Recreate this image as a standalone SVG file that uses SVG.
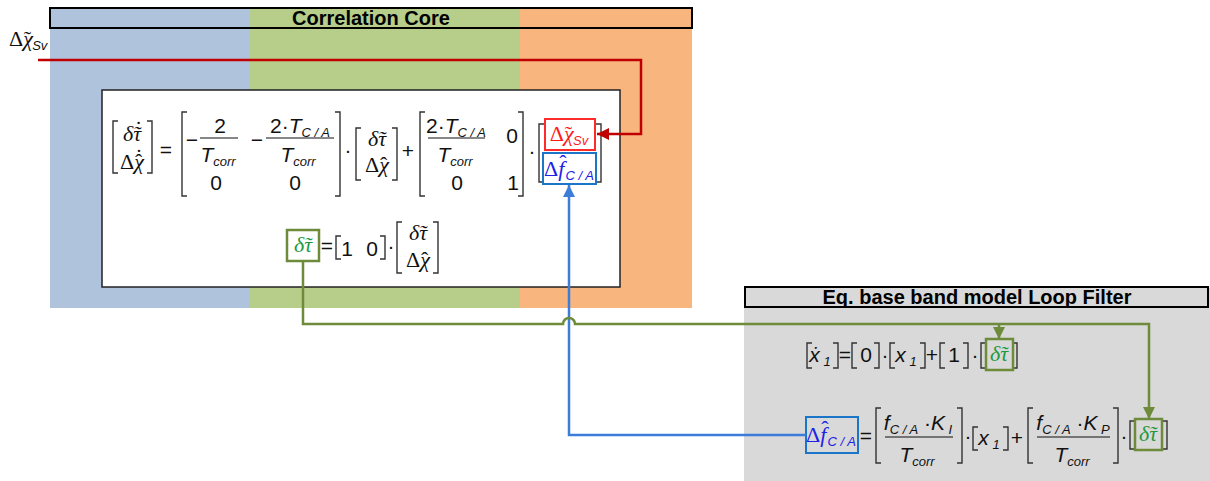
<svg xmlns="http://www.w3.org/2000/svg" width="1210" height="481" viewBox="0 0 1210 481">
<style>
.m{font-family:"Liberation Sans",Arial,sans-serif;font-size:21px;fill:#111}
.g{font-family:"Liberation Serif","Times New Roman",serif;font-size:22px;fill:#111}
.gi{font-style:italic}
.i{font-style:italic}
.s{font-family:"Liberation Sans",Arial,sans-serif;font-size:13px;font-style:italic}
.br{fill:none;stroke:#333;stroke-width:1.4}
.title{font-family:"Liberation Sans",Arial,sans-serif;font-weight:bold;font-size:20px;fill:#000}
.red{fill:#FF1A1A}
.blu{fill:#2020E8}
.grn{fill:#1E9A3C}
.gbox{fill:none;stroke:#6D8B3A;stroke-width:2.5}
.fl{stroke:#111;stroke-width:1.2}
</style>
<defs>
<marker id="arR" viewBox="0 0 10 10" refX="10" refY="5" markerWidth="12" markerHeight="12" markerUnits="userSpaceOnUse" orient="auto"><path d="M0,0 L10,5 L0,10 z" fill="#C00000"/></marker>
<marker id="arB" viewBox="0 0 10 10" refX="10" refY="5" markerWidth="12" markerHeight="12" markerUnits="userSpaceOnUse" orient="auto"><path d="M0,0 L10,5 L0,10 z" fill="#3C7DD9"/></marker>
<marker id="arG" viewBox="0 0 10 10" refX="10" refY="5" markerWidth="12" markerHeight="12" markerUnits="userSpaceOnUse" orient="auto"><path d="M0,0 L10,5 L0,10 z" fill="#6D8B3A"/></marker>
</defs>

<g id="correlation-core">
<rect x="50" y="8" width="200" height="300" fill="#B0C3DC"/>
<rect x="250" y="8" width="270" height="300" fill="#B7CE8A"/>
<rect x="520" y="8" width="172" height="300" fill="#F8B57E"/>
<rect x="50" y="8" width="642" height="20" fill="none" stroke="#000" stroke-width="2"/>
<text class="title" x="371" y="25" text-anchor="middle">Correlation Core</text>
</g>

<g id="loop-filter">
<rect x="744" y="288" width="466" height="193" fill="#D9D9D9"/>
<rect x="745" y="287" width="463" height="20" fill="#D9D9D9" stroke="#000" stroke-width="2"/>
<text class="title" x="977" y="304" text-anchor="middle">Eq. base band model Loop Filter</text>
</g>

<g id="state-model">
<rect x="102" y="90" width="518" height="197" fill="#fff" stroke="#222" stroke-width="1.5"/>
<!-- left vector -->
<path class="br" d="M118,121 H113 V173 H118 M147,121 H152 V173 H147"/>
<text class="g gi" x="132" y="141" text-anchor="middle">δτ<tspan dx="-8">˜</tspan><tspan dx="-7" dy="-5">˙</tspan></text>
<text class="g" x="132" y="169" text-anchor="middle">Δ<tspan class="gi">χ</tspan><tspan dx="-9">ˆ</tspan><tspan dx="-7" dy="-5">˙</tspan></text>
<text class="m" x="166" y="157" text-anchor="middle">=</text>
<!-- matrix A -->
<path class="br" d="M187,112 H182 V196 H187 M335,112 H340 V196 H335"/>
<text class="m" x="192" y="147" text-anchor="middle">−</text>
<text class="m" x="220" y="133" text-anchor="middle">2</text>
<line class="fl" x1="200" y1="138" x2="238" y2="138"/>
<text class="m" x="218" y="162" text-anchor="middle"><tspan class="i">T</tspan><tspan class="s" dy="4">corr</tspan></text>
<text class="m" x="216" y="190" text-anchor="middle">0</text>
<text class="m" x="257" y="147" text-anchor="middle">−</text>
<text class="m" x="300" y="133" text-anchor="middle">2·<tspan class="i">T</tspan><tspan class="s" dy="4">C / A</tspan></text>
<line class="fl" x1="266" y1="138" x2="334" y2="138"/>
<text class="m" x="298" y="162" text-anchor="middle"><tspan class="i">T</tspan><tspan class="s" dy="4">corr</tspan></text>
<text class="m" x="295" y="190" text-anchor="middle">0</text>
<text class="m" x="348" y="157" text-anchor="middle">·</text>
<!-- state vector -->
<path class="br" d="M361,128 H356 V180 H361 M392,128 H397 V180 H392"/>
<text class="g gi" x="377" y="146" text-anchor="middle">δτ<tspan dx="-8">˜</tspan></text>
<text class="g" x="377" y="172" text-anchor="middle">Δ<tspan class="gi">χ</tspan><tspan dx="-9">ˆ</tspan></text>
<text class="m" x="408" y="158" text-anchor="middle">+</text>
<!-- matrix B -->
<path class="br" d="M425,112 H420 V196 H425 M518,112 H523 V196 H518"/>
<text class="m" x="456" y="133" text-anchor="middle">2·<tspan class="i">T</tspan><tspan class="s" dy="4">C / A</tspan></text>
<line class="fl" x1="428" y1="138" x2="485" y2="138"/>
<text class="m" x="455" y="162" text-anchor="middle"><tspan class="i">T</tspan><tspan class="s" dy="4">corr</tspan></text>
<text class="m" x="512" y="143" text-anchor="middle">0</text>
<text class="m" x="457" y="190" text-anchor="middle">0</text>
<text class="m" x="513" y="190" text-anchor="middle">1</text>
<text class="m" x="532" y="158" text-anchor="middle">·</text>
<!-- input vector bracket -->
<path class="br" d="M544,124 H539 V182 H544 M596,124 H601 V182 H596"/>
<!-- output equation -->
<text class="m" x="327" y="253" text-anchor="middle">=</text>
<path class="br" d="M341,236 H336 V259 H341 M380,236 H385 V259 H380"/>
<text class="m" x="347" y="256" text-anchor="middle">1</text>
<text class="m" x="372" y="256" text-anchor="middle">0</text>
<text class="m" x="391" y="253" text-anchor="middle">·</text>
<path class="br" d="M402,222 H397 V273 H402 M433,222 H438 V273 H433"/>
<text class="g gi" x="418" y="240" text-anchor="middle">δτ<tspan dx="-8">˜</tspan></text>
<text class="g" x="418" y="267" text-anchor="middle">Δ<tspan class="gi">χ</tspan><tspan dx="-9">ˆ</tspan></text>
</g>

<g id="chi-input">
<rect x="545" y="119" width="50" height="31" fill="#fff" stroke="#FF2B2B" stroke-width="2"/>
<text class="g red" x="569" y="141" text-anchor="middle">Δ<tspan class="gi">χ</tspan><tspan dx="-9">˜</tspan><tspan class="s" dx="1" dy="4">Sv</tspan></text>
</g>

<g id="f-input">
<rect x="543" y="153" width="53" height="31" fill="#fff" stroke="#1B75C9" stroke-width="2"/>
<text class="g blu" x="569" y="176" text-anchor="middle">Δ<tspan class="gi">f</tspan><tspan dx="-5" dy="-6">ˆ</tspan><tspan class="s" dx="-1" dy="10">C / A</tspan></text>
</g>

<g id="tau-output">
<rect x="287" y="230" width="32" height="31" fill="#fff" stroke="#6D8B3A" stroke-width="2.5"/>
<text class="g gi grn" x="303" y="252" text-anchor="middle">δτ<tspan dx="-8">˜</tspan></text>
</g>

<g id="chi-label">
<text class="g" x="9" y="46">Δ<tspan class="gi">χ</tspan><tspan dx="-9">˜</tspan><tspan class="s" dx="1" dy="4">Sv</tspan></text>
</g>

<g id="lf-eq1">
<path class="br" d="M812,343 H807 V368 H812 M833,343 H838 V368 H833"/>
<text class="m" x="820" y="362" text-anchor="middle"><tspan class="i">x&#x307;</tspan><tspan class="s" dy="4"> 1</tspan></text>
<text class="m" x="845" y="362" text-anchor="middle">=</text>
<path class="br" d="M857,343 H852 V368 H857 M874,343 H879 V368 H874"/>
<text class="m" x="866" y="362" text-anchor="middle">0</text>
<text class="m" x="885" y="362" text-anchor="middle">·</text>
<path class="br" d="M895,343 H890 V368 H895 M920,343 H925 V368 H920"/>
<text class="m" x="906" y="362" text-anchor="middle"><tspan class="i">x</tspan><tspan class="s" dy="4"> 1</tspan></text>
<text class="m" x="932" y="362" text-anchor="middle">+</text>
<path class="br" d="M945,343 H940 V368 H945 M963,343 H968 V368 H963"/>
<text class="m" x="954" y="362" text-anchor="middle">1</text>
<text class="m" x="975" y="362" text-anchor="middle">·</text>
<path class="br" d="M986,343 H981 V368 H986 M1012,343 H1017 V368 H1012"/>
</g>

<g id="lf-tau1">
<rect x="986" y="339" width="27" height="31" class="gbox"/>
<text class="g gi grn" x="999" y="361" text-anchor="middle">δτ<tspan dx="-8">˜</tspan></text>
</g>

<g id="lf-eq2">
<text class="m" x="866" y="443" text-anchor="middle">=</text>
<path class="br" d="M881,408 H876 V463 H881 M957,408 H962 V463 H957"/>
<text class="m" x="918" y="430" text-anchor="middle"><tspan class="i">f</tspan><tspan class="s" dy="4">C / A</tspan><tspan dy="-4"> ·</tspan><tspan class="i">K</tspan><tspan class="s" dy="4"> I</tspan></text>
<line class="fl" x1="885" y1="437" x2="953" y2="437"/>
<text class="m" x="917" y="462" text-anchor="middle"><tspan class="i">T</tspan><tspan class="s" dy="4">corr</tspan></text>
<text class="m" x="968" y="443" text-anchor="middle">·</text>
<path class="br" d="M978,427 H973 V450 H978 M1003,427 H1008 V450 H1003"/>
<text class="m" x="989" y="445" text-anchor="middle"><tspan class="i">x</tspan><tspan class="s" dy="4"> 1</tspan></text>
<text class="m" x="1017" y="445" text-anchor="middle">+</text>
<path class="br" d="M1033,408 H1028 V463 H1033 M1113,408 H1118 V463 H1113"/>
<text class="m" x="1073" y="430" text-anchor="middle"><tspan class="i">f</tspan><tspan class="s" dy="4">C / A</tspan><tspan dy="-4"> ·</tspan><tspan class="i">K</tspan><tspan class="s" dy="4"> P</tspan></text>
<line class="fl" x1="1037" y1="437" x2="1110" y2="437"/>
<text class="m" x="1072" y="462" text-anchor="middle"><tspan class="i">T</tspan><tspan class="s" dy="4">corr</tspan></text>
<text class="m" x="1124" y="443" text-anchor="middle">·</text>
<path class="br" d="M1135,421 H1130 V449 H1135 M1162,421 H1167 V449 H1162"/>
</g>

<g id="lf-f-output">
<rect x="806" y="417" width="52" height="36" fill="none" stroke="#1B75C9" stroke-width="2"/>
<text class="g blu" x="831" y="442" text-anchor="middle">Δ<tspan class="gi">f</tspan><tspan dx="-5" dy="-6">ˆ</tspan><tspan class="s" dx="-1" dy="10">C / A</tspan></text>
</g>

<g id="lf-tau2">
<rect x="1135" y="419" width="27" height="31" class="gbox"/>
<text class="g gi grn" x="1148" y="441" text-anchor="middle">δτ<tspan dx="-8">˜</tspan></text>
</g>

<g id="connectors" fill="none" stroke-width="2.5">
<path d="M38,60 H641 V134 H597" stroke="#C00000" marker-end="url(#arR)"/>
<path d="M806,435 H569 V185" stroke="#3C7DD9" marker-end="url(#arB)"/>
<path d="M303,261 V324 H563 A6,6 0 0 1 575,324 H1149 V419" stroke="#6D8B3A" marker-end="url(#arG)"/>
<path d="M999,324 V339" stroke="#6D8B3A" marker-end="url(#arG)"/>
</g>
</svg>
